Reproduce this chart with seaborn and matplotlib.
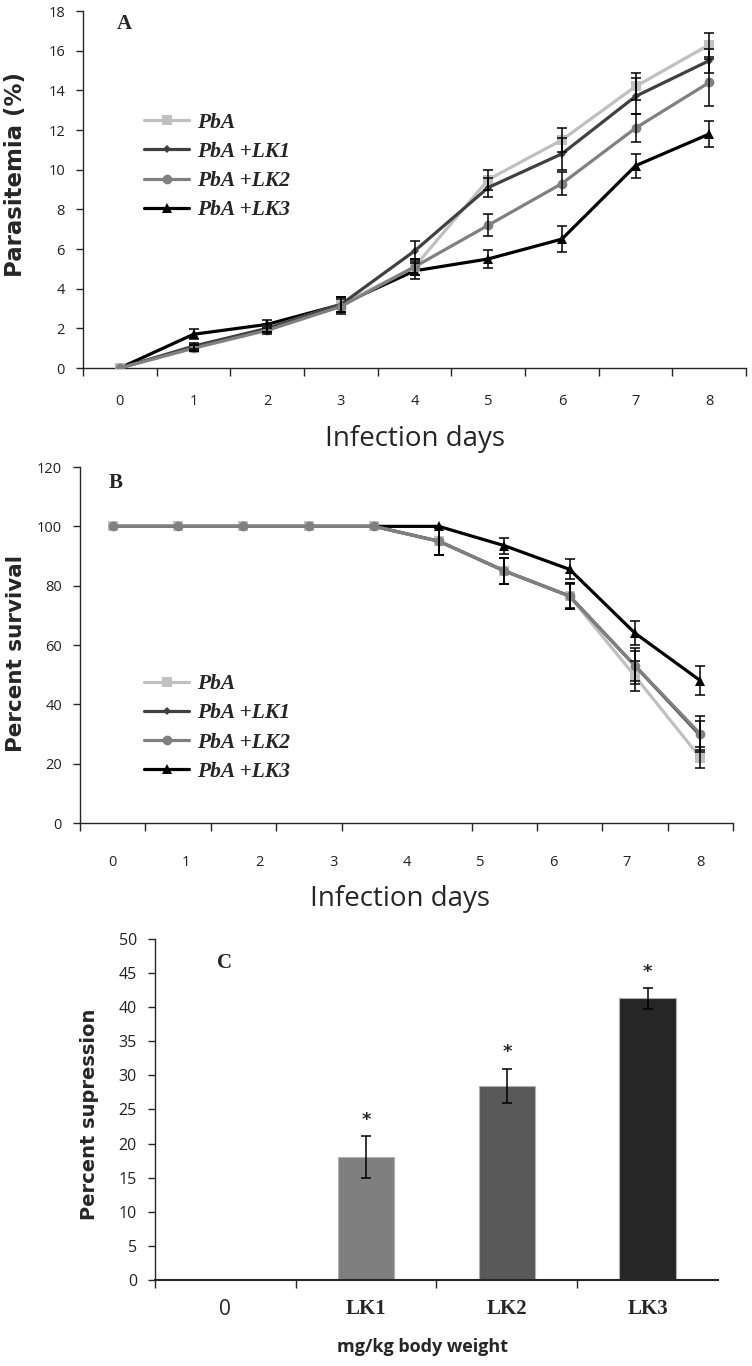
"""
Parasitemia, survival and suppression panels (A, B, C) for PbA infected
mice treated with LK1, LK2 and LK3.
"""

import numpy as np
import pandas as pd
import matplotlib.pyplot as plt
from matplotlib.lines import Line2D
from matplotlib.colors import to_hex
from matplotlib.font_manager import FontProperties
import seaborn as sns


# ─────────────────────────────────────────────
# DATA
# ─────────────────────────────────────────────

GROUPS = ["PbA", "PbA +LK1", "PbA +LK2", "PbA +LK3"]

# Panel A: parasitemia (%) per infection day
DAYS_A = [0, 1, 2, 3, 4, 5, 6, 7, 8]
PBA_A = [0, 1.0, 2.0, 3.2, 5.1, 9.5, 11.5, 14.2, 16.3]
LK1_A = [0, 1.1, 2.0, 3.2, 5.9, 9.1, 10.8, 13.7, 15.5]
LK2_A = [0, 1.0, 1.9, 3.1, 5.1, 7.2, 9.3, 12.1, 14.4]
LK3_A = [0, 1.7, 2.2, 3.2, 4.9, 5.5, 6.5, 10.2, 11.8]
PBA_A_ERR = [0, 0.15, 0.2, 0.4, 0.4, 0.5, 0.6, 0.7, 0.6]
LK1_A_ERR = [0, 0.15, 0.2, 0.4, 0.5, 0.5, 0.8, 0.9, 0.6]
LK2_A_ERR = [0, 0.15, 0.2, 0.4, 0.4, 0.55, 0.6, 0.7, 1.2]
LK3_A_ERR = [0, 0.25, 0.2, 0.4, 0.4, 0.45, 0.65, 0.6, 0.65]
TICKS_A = ["0", "1", "2", "3", "4", "5", "6", "7", "8"]

# Panel B: percent survival (10 readings spread over days 0-8)
DAYS_B = [0, 0.89, 1.78, 2.67, 3.56, 4.44, 5.33, 6.22, 7.11, 8.0]
PBA_B = [100, 100, 100, 100, 100, 95, 85, 76.5, 49.5, 22]
LK1_B = [100, 100, 100, 100, 100, 95, 85, 76.5, 53, 29.5]
LK2_B = [100, 100, 100, 100, 100, 95, 85, 76.5, 53, 30]
LK3_B = [100, 100, 100, 100, 100, 100, 93.5, 85.5, 64, 48]
PBA_B_ERR = [0, 0, 0, 0, 0, 4.5, 4.5, 4.5, 5, 3.5]
LK1_B_ERR = [0, 0, 0, 0, 0, 4.5, 4.5, 4, 6, 5]
LK2_B_ERR = [0, 0, 0, 0, 0, 4.5, 4.5, 4.5, 5, 6]
LK3_B_ERR = [0, 0, 0, 0, 0, 0, 2.7, 3.4, 4, 5]
TICKS_B = ["0", "1", "2", "3", "4", "5", "6", "7", "8"]

# Panel C: percent suppression per dose
DOSES = ["0", "LK1", "LK2", "LK3"]
SUPPRESSION = [0, 18.0, 28.5, 41.3]
SUPPRESSION_ERR = [0, 3.1, 2.5, 1.5]
SIGNIFICANT = [False, True, True, True]


# ─────────────────────────────────────────────
# STYLE
# ─────────────────────────────────────────────

COLORS = {"PbA": "#c0c0c0", "PbA +LK1": "#404040",
          "PbA +LK2": "#808080", "PbA +LK3": "#000000"}
MARKERS = {"PbA": "s", "PbA +LK1": "D", "PbA +LK2": "o", "PbA +LK3": "^"}
MSIZE = {"PbA": 6.5, "PbA +LK1": 4.5, "PbA +LK2": 7, "PbA +LK3": 7.5}
ZORDER = {"PbA": 3, "PbA +LK1": 4, "PbA +LK2": 5, "PbA +LK3": 2.5}
BAR_COLORS = ["#808080", "#7f7f7f", "#595959", "#262626"]

sns.set_style("ticks")
plt.rcParams["font.family"] = ["Open Sans", "DejaVu Sans"]
plt.rcParams["axes.linewidth"] = 1.0

LEGEND_FONT = FontProperties(family="Liberation Serif", weight="bold",
                             style="italic", size=15.5)
LETTER_FONT = dict(family="Liberation Serif", fontweight="bold", fontsize=15)
YLABEL_FONT = dict(family="DejaVu Sans", fontweight="bold")
XLABEL_FONT = dict(family="Open Sans")
TICK_COLOR = "#222222"


# ─────────────────────────────────────────────
# PANELS
# ─────────────────────────────────────────────

def line_panel(ax, days, series, errors):
    """Lines with markers for the four groups, plus black error bars."""
    df = pd.DataFrame({
        "day": np.tile(days, len(GROUPS)),
        "group": np.repeat(GROUPS, len(days)),
        "value": np.concatenate(series),
    })
    sns.lineplot(
        data=df, x="day", y="value", hue="group", style="group",
        hue_order=GROUPS, style_order=GROUPS, palette=COLORS,
        markers=MARKERS, dashes=False, linewidth=2.3,
        markeredgewidth=0, errorbar=None, legend=False, ax=ax,
    )
    # per-group marker size and stacking order
    by_color = {to_hex(c): g for g, c in COLORS.items()}
    for line in ax.lines:
        g = by_color.get(to_hex(line.get_color()))
        if g:
            line.set_markersize(MSIZE[g])
            line.set_zorder(ZORDER[g])

    for vals, errs in zip(series, errors):
        x = np.array(days, dtype=float)
        y = np.array(vals, dtype=float)
        e = np.array(errs, dtype=float)
        m = e > 0
        ax.errorbar(x[m], y[m], yerr=e[m], fmt="none", ecolor="black",
                    elinewidth=1.1, capsize=3.5, capthick=1.1, zorder=6)

    handles = [Line2D([0], [0], color=COLORS[g], marker=MARKERS[g],
                      markersize=MSIZE[g], linewidth=2.3, markeredgewidth=0)
               for g in GROUPS]
    return handles


def style_axis(ax, ylim, ystep, ylabel, ylabel_size):
    sns.despine(ax=ax)
    ax.set_ylim(*ylim)
    ax.set_yticks(np.arange(ylim[0], ylim[1] + 0.1, ystep))
    ax.tick_params(axis="y", length=5, width=1, pad=8,
                   labelsize=10.5, labelcolor=TICK_COLOR)
    ax.set_ylabel(ylabel, fontsize=ylabel_size, **YLABEL_FONT)
    ax.set_xlabel("")


def add_legend(ax, handles, anchor):
    ax.legend(handles, GROUPS, loc="upper left", bbox_to_anchor=anchor,
              frameon=False, prop=LEGEND_FONT, handlelength=2.1,
              handletextpad=0.35, labelspacing=0.42, borderpad=0,
              borderaxespad=0)


def panel_a(ax):
    handles = line_panel(ax, DAYS_A, [PBA_A, LK1_A, LK2_A, LK3_A],
                         [PBA_A_ERR, LK1_A_ERR, LK2_A_ERR, LK3_A_ERR])
    style_axis(ax, (0, 18), 2, "Parasitemia (%)", 16.5)
    ax.set_xlim(-0.5, 8.5)
    ax.set_xticks(DAYS_A)
    ax.set_xticklabels(TICKS_A)
    ax.set_xticks(np.arange(-0.5, 8.6, 1), minor=True)
    ax.tick_params(axis="x", which="major", length=0, pad=19,
                   labelsize=10.5, labelcolor=TICK_COLOR)
    ax.tick_params(axis="x", which="minor", length=6, width=1)
    ax.text(0.062, 0.964, "A", transform=ax.transAxes,
            ha="center", va="center", **LETTER_FONT)
    ax.text(0.5, -0.198, "Infection days", transform=ax.transAxes,
            ha="center", va="center", fontsize=20, **XLABEL_FONT)
    ax.yaxis.set_label_coords(-0.084, 0.543)
    add_legend(ax, handles, (0.092, 0.715))


def panel_b(ax):
    handles = line_panel(ax, DAYS_B, [PBA_B, LK1_B, LK2_B, LK3_B],
                         [PBA_B_ERR, LK1_B_ERR, LK2_B_ERR, LK3_B_ERR])
    style_axis(ax, (0, 120), 20, "Percent survival", 15.5)
    half = (DAYS_B[1] - DAYS_B[0]) / 2
    bounds = np.concatenate([[DAYS_B[0] - half],
                             (np.array(DAYS_B[:-1]) + np.array(DAYS_B[1:])) / 2,
                             [DAYS_B[-1] + half]])
    ax.set_xlim(bounds[0], bounds[-1])
    ax.set_xticks(range(len(TICKS_B)))
    ax.set_xticklabels(TICKS_B)
    ax.set_xticks(bounds, minor=True)
    ax.tick_params(axis="x", which="major", length=0, pad=23,
                   labelsize=10.5, labelcolor=TICK_COLOR)
    ax.tick_params(axis="x", which="minor", length=6, width=1)
    ax.text(0.054, 0.955, "B", transform=ax.transAxes,
            ha="center", va="center", **LETTER_FONT)
    ax.text(0.49, -0.213, "Infection days", transform=ax.transAxes,
            ha="center", va="center", fontsize=20, **XLABEL_FONT)
    ax.yaxis.set_label_coords(-0.082, 0.475)
    add_legend(ax, handles, (0.098, 0.418))


def panel_c(ax):
    sns.barplot(x=DOSES, y=SUPPRESSION, hue=DOSES, palette=BAR_COLORS,
                legend=False, width=0.4, edgecolor="#b0b0b0", linewidth=0.8,
                ax=ax)
    pos = np.arange(len(DOSES))
    mean = np.array(SUPPRESSION)
    err = np.array(SUPPRESSION_ERR)
    m = err > 0
    ax.errorbar(pos[m], mean[m], yerr=err[m], fmt="none", ecolor="black",
                elinewidth=1.1, capsize=3.5, capthick=1.1, zorder=6)
    for p, v, e, sig in zip(pos, mean, err, SIGNIFICANT):
        if sig:
            ax.text(p, v + e + 2.4, "*", ha="center", va="center",
                    fontsize=13, fontweight="bold", family="DejaVu Sans")

    style_axis(ax, (0, 50), 5, "Percent supression", 14)
    ax.tick_params(axis="y", labelsize=11.5)
    ax.spines["bottom"].set_linewidth(1.5)
    ax.set_xlim(-0.5, 3.5)
    ax.set_xticks(pos)
    ax.set_xticklabels(DOSES)
    ax.set_xticks([-0.5, 0.5, 1.5, 2.5], minor=True)
    ax.tick_params(axis="x", which="major", length=0, pad=14)
    ax.tick_params(axis="x", which="minor", length=6, width=1)
    for lbl in ax.get_xticklabels():
        if lbl.get_text() == "0":
            lbl.set_fontfamily("Open Sans")
        else:
            lbl.set_fontfamily("Liberation Serif")
            lbl.set_fontweight("bold")
        lbl.set_fontsize(15)
    ax.text(0.124, 0.93, "C", transform=ax.transAxes,
            ha="center", va="center", **LETTER_FONT)
    ax.text(0.476, -0.196, "mg/kg body weight", transform=ax.transAxes,
            ha="center", va="center", fontsize=13, fontweight="bold",
            family="Open Sans")
    ax.yaxis.set_label_coords(-0.1, 0.487)


# ─────────────────────────────────────────────
# MAIN
# ─────────────────────────────────────────────

def main():
    fig = plt.figure(figsize=(7.52, 13.66), dpi=100)
    ax_a = fig.add_axes([0.1104, 0.7306, 0.8817, 0.2613])
    ax_b = fig.add_axes([0.1064, 0.3975, 0.8684, 0.2606])
    ax_c = fig.add_axes([0.2061, 0.0630, 0.7487, 0.2496])
    panel_a(ax_a)
    panel_b(ax_b)
    panel_c(ax_c)
    fig.savefig("out.png", dpi=100, facecolor="white")


if __name__ == "__main__":
    main()
